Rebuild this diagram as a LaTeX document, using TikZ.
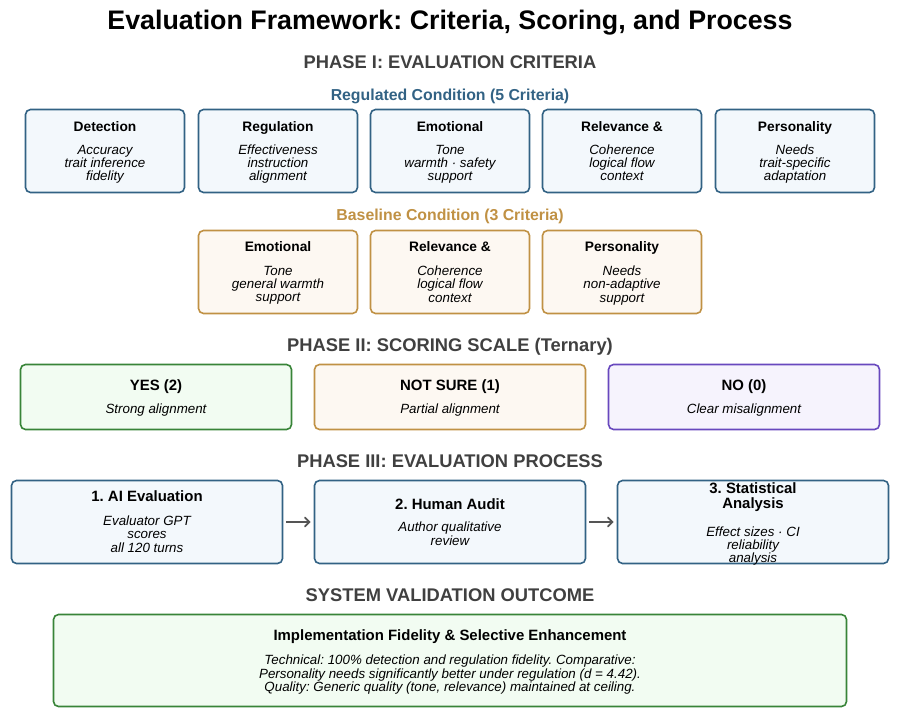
\documentclass[tikz,border=0pt]{standalone}
\usepackage{fontspec}
\setmainfont{Liberation Sans}
\usepackage{xcolor}
\usetikzlibrary{arrows,positioning}
\definecolor{regblue}{RGB}{50,98,132}
\definecolor{regfill}{RGB}{243,248,252}
\definecolor{basegold}{RGB}{192,145,68}
\definecolor{basefill}{RGB}{253,248,242}
\definecolor{yesgreen}{RGB}{56,132,56}
\definecolor{yesfill}{RGB}{242,252,242}
\definecolor{nopurple}{RGB}{104,72,190}
\definecolor{nofill}{RGB}{246,243,253}
\definecolor{headgray}{RGB}{64,64,64}
\definecolor{arrowgray}{RGB}{85,85,85}
\frenchspacing
\tikzset{
  card/.style={draw,rounded corners=5bp,line width=1.6bp,inner sep=0pt},
  critcard/.style={card,minimum width=159bp,minimum height=83bp},
  regcard/.style={critcard,draw=regblue,fill=regfill},
  basecard/.style={critcard,draw=basegold,fill=basefill},
  widecard/.style={card,minimum width=271bp},
  txt/.style={inner sep=0pt,align=center},
  cardtitle/.style={txt,text height=9.9bp,text depth=0pt,font=\bfseries\fontsize{13.8}{15}\selectfont},
  bigtitle/.style={txt,text height=10.8bp,text depth=0pt,font=\bfseries\fontsize{15}{15}\selectfont},
  carddesc/.style={txt,text depth=2.8bp,font=\itshape\fontsize{13.4}{13.2}\selectfont},
  phasehead/.style={txt,text height=13.2bp,text depth=0pt,font=\bfseries\fontsize{18.4}{20}\selectfont,text=headgray},
  condhead/.style={txt,text height=11.4bp,text depth=0pt,font=\bfseries\fontsize{15.9}{17}\selectfont}
}
\begin{document}
\begin{tikzpicture}[x=1bp,y=-1bp,>=angle 90]
\useasboundingbox (0,0) rectangle (900,718);
%%Title and phase headings
\node[txt,text height=19.4bp,text depth=0pt,font=\bfseries\fontsize{26.9}{30}\selectfont] (title) at (450,19.5) {Evaluation Framework: Criteria, Scoring, and Process};
\node[phasehead] (ph1) at (450,62) {PHASE I: EVALUATION CRITERIA};
\node[condhead,text=regblue] (reghead) at (450,95) {Regulated Condition (5 Criteria)};
\node[condhead,text=basegold] (basehead) at (450,215) {Baseline Condition (3 Criteria)};
\node[phasehead] (ph2) at (450,345) {PHASE II: SCORING SCALE (Ternary)};
\node[phasehead] (ph3) at (450,461) {PHASE III: EVALUATION PROCESS};
\node[phasehead] (ph4) at (450,595) {SYSTEM VALIDATION OUTCOME};
%%Regulated criteria
\node[regcard] (r1) at (105,151) {};
\node[regcard] (r2) at (278,151) {};
\node[regcard] (r3) at (450,151) {};
\node[regcard] (r4) at (622,151) {};
\node[regcard] (r5) at (795,151) {};
\node[cardtitle] at (105,127) {Detection};
\node[cardtitle] at (278,127) {Regulation};
\node[cardtitle] at (450,127) {Emotional};
\node[cardtitle] at (622,127) {Relevance \&};
\node[cardtitle] at (795,127) {Personality};
\node[carddesc] at (105,164) {Accuracy\\trait inference\\fidelity};
\node[carddesc] at (278,164) {Effectiveness\\instruction\\alignment};
\node[carddesc] at (450,164) {Tone\\warmth · safety\\support};
\node[carddesc] at (622,164) {Coherence\\logical flow\\context};
\node[carddesc] at (795,164) {Needs\\trait-specific\\adaptation};
%%Baseline criteria
\node[basecard] (b1) at (278,272) {};
\node[basecard] (b2) at (450,272) {};
\node[basecard] (b3) at (622,272) {};
\node[cardtitle] at (278,247) {Emotional};
\node[cardtitle] at (450,247) {Relevance \&};
\node[cardtitle] at (622,247) {Personality};
\node[carddesc] at (278,285.5) {Tone\\general warmth\\support};
\node[carddesc] at (450,285.5) {Coherence\\logical flow\\context};
\node[carddesc] at (622,285.5) {Needs\\non-adaptive\\support};
%%Scoring scale
\node[widecard,minimum height=65bp,draw=yesgreen,fill=yesfill] (yes) at (156,397) {};
\node[widecard,minimum height=65bp,draw=basegold,fill=basefill] (unsure) at (450,397) {};
\node[widecard,minimum height=65bp,draw=nopurple,fill=nofill] (no) at (744,397) {};
\node[bigtitle] at (156,385) {YES (2)};
\node[bigtitle] at (450,385) {NOT SURE (1)};
\node[bigtitle] at (744,385) {NO (0)};
\node[carddesc] at (156,410) {Strong alignment};
\node[carddesc] at (450,410) {Partial alignment};
\node[carddesc] at (744,410) {Clear misalignment};
%%Evaluation process
\node[widecard,minimum height=83bp,draw=regblue,fill=regfill] (p1) at (147,522) {};
\node[widecard,minimum height=83bp,draw=regblue,fill=regfill] (p2) at (450,522) {};
\node[widecard,minimum height=83bp,draw=regblue,fill=regfill] (p3) at (753,522) {};
\node[bigtitle] at (147,496) {1. AI Evaluation};
\node[bigtitle] at (450,504) {2. Human Audit};
\node[txt,font=\bfseries\fontsize{15}{15}\selectfont] at (753,497) {3. Statistical\\Analysis};
\node[carddesc] at (147,535.5) {Evaluator GPT\\scores\\all 120 turns};
\node[carddesc] at (450,535) {Author qualitative\\review};
\node[carddesc] at (753,546) {Effect sizes · CI\\reliability\\analysis};
%%Process arrows
\draw[->,arrowgray,line width=1.8bp,shorten <=3bp,shorten >=3bp]
(p1) edge (p2)
(p2) edge (p3);
%%Outcome
\node[card,minimum width=793bp,minimum height=92bp,draw=yesgreen,fill=yesfill] (out) at (450,660.5) {};
\node[bigtitle] at (450,635) {Implementation Fidelity \& Selective Enhancement};
\node[carddesc,font=\itshape\fontsize{13.4}{13.5}\selectfont] at (450,675) {Technical: 100\% detection and regulation fidelity. Comparative:\\Personality needs significantly better under regulation (d = 4.42).\\Quality: Generic quality (tone, relevance) maintained at ceiling.};
\end{tikzpicture}
\end{document}
